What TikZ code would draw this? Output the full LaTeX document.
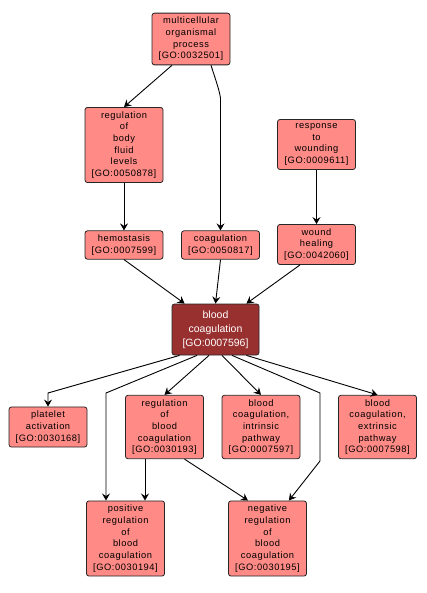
\documentclass[tikz,border=0pt]{standalone}
\usepackage{fontspec}
\setmainfont{Liberation Sans}
\newfontfamily\gofont[LetterSpace=6]{Liberation Sans}
\usetikzlibrary{positioning, arrows.meta}
\definecolor{goterm}{RGB}{255,138,134}
\definecolor{gomain}{RGB}{153,48,48}

\begin{document}
\begin{tikzpicture}[
  x=1pt, y=-1pt,
  every node/.style={rectangle, rounded corners=2.5pt, draw=black!85, line width=0.8pt,
    align=center, inner xsep=2pt, inner ysep=4pt, minimum width=78pt},
  term/.style={fill=goterm, font=\gofont\fontsize{9.3}{11.7}\selectfont},
  focus/.style={fill=gomain, text=white, minimum width=87pt, minimum height=51pt,
    font=\fontsize{10.5}{14}\selectfont},
  isa/.style={-{Stealth[length=7pt, width=8pt, inset=2.5pt]}, line width=0.9pt, black}
]
\useasboundingbox (0,0) rectangle (427,593);

% top part
\node[term] (mop) at (191,39) {multicellular\\organismal\\process\\{[GO:0032501]}};
\node[term] (rbf) at (124,145) {regulation\\of\\body\\fluid\\levels\\{[GO:0050878]}};
\node[term] (rtw) at (316.5,144.5) {response\\to\\wounding\\{[GO:0009611]}};
\node[term] (hem) at (124,245) {hemostasis\\{[GO:0007599]}};
\node[term] (coag) at (220.5,245) {coagulation\\{[GO:0050817]}};
\node[term] (wh) at (316.5,244.5) {wound\\healing\\{[GO:0042060]}};

\node[focus] (bc) at (215.5,329.5) {blood\\coagulation\\{[GO:0007596]}};

% children
\node[term] (pa) at (48,427) {platelet\\activation\\{[GO:0030168]}};
\node[term] (rbc) at (164.5,427) {regulation\\of\\blood\\coagulation\\{[GO:0030193]}};
\node[term] (bci) at (261,427) {blood\\coagulation,\\intrinsic\\pathway\\{[GO:0007597]}};
\node[term] (bce) at (377.5,427) {blood\\coagulation,\\extrinsic\\pathway\\{[GO:0007598]}};
\node[term] (prbc) at (125.5,538.5) {positive\\regulation\\of\\blood\\coagulation\\{[GO:0030194]}};
\node[term] (nrbc) at (267.5,538.5) {negative\\regulation\\of\\blood\\coagulation\\{[GO:0030195]}};

% bend points
\coordinate (k1) at (220.5,98);
\coordinate (k2) at (48,393);
\coordinate (k3) at (106,393);
\coordinate (k4) at (320,393);
\coordinate (k5) at (320,461);

\draw[isa] ([xshift=-19pt]mop.south) -- (rbf.north);
\draw[isa] ([xshift=20pt]mop.south) .. controls (219,90) .. (k1) -- (coag.north);
\draw[isa] (rbf) -- (hem);
\draw[isa] (rtw) -- (wh);
\draw[isa] (hem.south) -- ([xshift=13pt]bc.north west);
\draw[isa] (coag.south) -- (bc.north);
\draw[isa] ([xshift=-16.5pt]wh.south) -- ([xshift=-13pt]bc.north east);

\draw[isa] ([xshift=8pt]bc.south west) -- (k2) -- (pa.north);
\draw[isa] ([xshift=-18.5pt]bc.south) -- (k3) -- (k3 |- prbc.north);
\draw[isa] ([xshift=-6.5pt]bc.south) -- (rbc.north);
\draw[isa] ([xshift=6.5pt]bc.south) -- (bci.north);
\draw[isa] ([xshift=16.5pt]bc.south) -- (k4) -- (k5) -- ([xshift=-18pt]nrbc.north east);
\draw[isa] ([xshift=-13pt]bc.south east) -- (bce.north);
\draw[isa] ([xshift=-19.5pt]rbc.south) -- ([xshift=-19.5pt]rbc.south |- prbc.north);
\draw[isa] ([xshift=20pt]rbc.south) -- ([xshift=-19.5pt]nrbc.north);
\end{tikzpicture}
\end{document}
